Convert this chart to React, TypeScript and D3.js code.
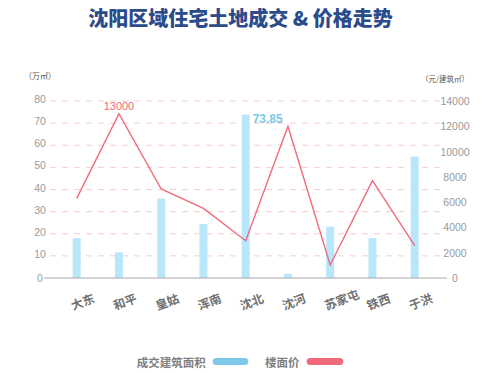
import React from "react";
import * as d3 from "d3";

const categories = ["大东", "和平", "皇姑", "浑南", "沈北", "沈河", "苏家屯", "铁西", "于洪"];
const areaValues = [18.0, 11.6, 35.9, 24.4, 73.85, 1.9, 23.2, 18.0, 54.9];
const priceValues = [6300, 13000, 7040, 5510, 2950, 12000, 1030, 7700, 2560];
const leftTicks = [0, 10, 20, 30, 40, 50, 60, 70, 80];
const rightTicks = [0, 2000, 4000, 6000, 8000, 10000, 12000, 14000];
const titleText = "沈阳区域住宅土地成交 & 价格走势";
const leftUnit = "（万㎡）";
const rightUnit = "（元/建筑㎡）";
const legendItems = ["成交建筑面积", "楼面价"];

const W = 500;
const H = 373;
const y0 = 278;
const yTop = 101;
const axisX0 = 44;
const axisX1 = 447;

const BLUE_BAR = "#b8e7fb";
const BLUE = "#7ec8ea";
const RED = "#f06a7c";
const FONT = "'Noto Sans CJK SC', 'Noto Sans', sans-serif";
const NUMFONT = "'Liberation Sans', Arial, sans-serif";

export default function App() {
  const x = d3.scalePoint<string>().domain(categories).range([76.7, 414.7]);
  const yL = d3.scaleLinear().domain([0, 80]).range([y0, yTop]);
  const yR = d3.scaleLinear().domain([0, 14000]).range([y0, yTop]);
  const barW = 8;

  const line = d3
    .line<number>()
    .x((_, i) => x(categories[i]) as number)
    .y((d) => yR(d));

  const maxAreaIdx = areaValues.indexOf(d3.max(areaValues) as number);
  const maxPriceIdx = priceValues.indexOf(d3.max(priceValues) as number);

  return (
    <svg
      width={W}
      height={H}
      style={{ position: "absolute", top: 0, left: 0, background: "#fff" }}
      fontFamily={FONT}
    >
      <rect x={0} y={0} width={W} height={H} fill="#fff" />
      <text
        x={240.5}
        y={17}
        textAnchor="middle"
        dominantBaseline="central"
        fontSize={20}
        fontWeight={900}
        fill="#2c4b8b"
      >
        {titleText}
      </text>

      {/* gridlines */}
      {leftTicks.slice(1).map((t) => (
        <line
          key={"g" + t}
          x1={50}
          x2={440}
          y1={yL(t)}
          y2={yL(t)}
          stroke="#f5cdd3"
          strokeWidth={1}
          strokeDasharray="6,6"
        />
      ))}

      {/* unit labels */}
      <text x={40} y={75} textAnchor="middle" dominantBaseline="central" fontSize={8} fill="#555">
        {leftUnit}
      </text>
      <text x={445} y={78} textAnchor="middle" dominantBaseline="central" fontSize={7.5} fill="#555">
        {rightUnit}
      </text>

      {/* left ticks */}
      {leftTicks.map((t) => (
        <text
          key={"l" + t}
          x={40}
          y={yL(t) - (t === 0 ? 0 : 2)}
          textAnchor="middle"
          dominantBaseline="central"
          fontSize={10.5}
          fontFamily={NUMFONT}
          fill="#9a9a9a"
        >
          {t}
        </text>
      ))}
      {/* right ticks */}
      {rightTicks.map((t) => (
        <text
          key={"r" + t}
          x={455}
          y={yR(t)}
          textAnchor="middle"
          dominantBaseline="central"
          fontSize={10.5}
          fontFamily={NUMFONT}
          fill="#9a9a9a"
        >
          {t}
        </text>
      ))}

      {/* bars */}
      {areaValues.map((v, i) => (
        <rect
          key={"b" + i}
          x={(x(categories[i]) as number) - barW / 2}
          y={yL(v)}
          width={barW}
          height={y0 - yL(v)}
          fill={BLUE_BAR}
        />
      ))}
      <text
        x={(x(categories[maxAreaIdx]) as number) + barW / 2 + 3}
        y={yL(areaValues[maxAreaIdx]) + 4}
        dominantBaseline="central"
        fontSize={12}
        fontWeight={700}
        fontFamily={NUMFONT}
        fill={BLUE}
      >
        {areaValues[maxAreaIdx].toFixed(2)}
      </text>

      {/* axis */}
      <line x1={axisX0} x2={axisX1} y1={y0} y2={y0} stroke="#a8a8a8" strokeWidth={1} />

      {/* price line */}
      <path d={line(priceValues) || ""} fill="none" stroke={RED} strokeWidth={1.4} />
      <text
        x={x(categories[maxPriceIdx]) as number}
        y={yR(priceValues[maxPriceIdx]) - 8}
        textAnchor="middle"
        dominantBaseline="central"
        fontSize={11}
        fontFamily={NUMFONT}
        fill={RED}
      >
        {priceValues[maxPriceIdx]}
      </text>

      {/* x labels */}
      {categories.map((c) => {
        const cx = (x(c) as number) - 5.5;
        const cy = 305;
        return (
          <text
            key={"x" + c}
            x={cx}
            y={cy}
            transform={`rotate(-20, ${cx}, ${cy})`}
            dominantBaseline="central"
            fontSize={12}
            fontWeight={700}
            fill="#707070"
          >
            {c}
          </text>
        );
      })}

      {/* legend */}
      <text x={136.7} y={361.5} dominantBaseline="central" fontSize={11.5} fontWeight={700} fill="#808080">
        {legendItems[0]}
      </text>
      <rect x={212.7} y={358} width={35.6} height={7} rx={3.5} fill={BLUE} />
      <text x={265} y={361.5} dominantBaseline="central" fontSize={11.5} fontWeight={700} fill="#808080">
        {legendItems[1]}
      </text>
      <rect x={306.7} y={358} width={36.6} height={7} rx={3.5} fill={RED} />
    </svg>
  );
}
